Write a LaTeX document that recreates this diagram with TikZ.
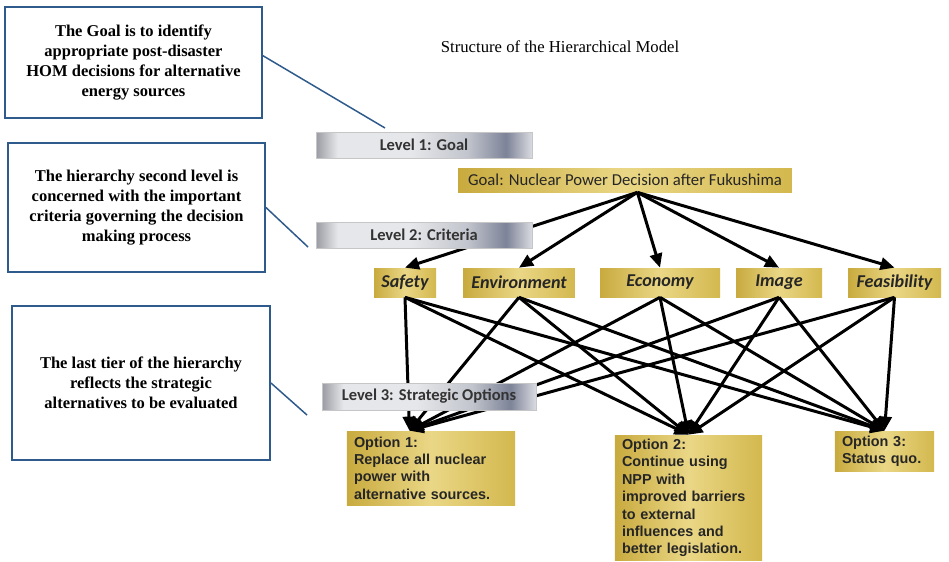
\documentclass[tikz,border=0pt]{standalone}
\usepackage{fontspec}
\setmainfont{Liberation Serif}
\newfontfamily\barfont{Carlito}
\newfontfamily\optfont{Liberation Sans}
\usetikzlibrary{arrows.meta}

\definecolor{noteblue}{HTML}{2F5B8C}
\definecolor{silverA}{HTML}{9A9CA3}
\definecolor{silverB}{HTML}{E6E7EA}
\definecolor{silverC}{HTML}{C2C5CD}
\definecolor{silverD}{HTML}{7D8398}
\definecolor{silverE}{HTML}{DADBE0}
\definecolor{goldA}{HTML}{C8AA3E}
\definecolor{goldB}{HTML}{EAD786}
\definecolor{goldC}{HTML}{D3B84E}

\pgfdeclarehorizontalshading{silverbar}{100bp}{color(0bp)=(silverA); color(25bp)=(silverA); color(30bp)=(silverB); color(47bp)=(silverB); color(60bp)=(silverC); color(69bp)=(silverD); color(75bp)=(silverE); color(100bp)=(silverE)}
\pgfdeclarehorizontalshading{goldbar}{100bp}{color(0bp)=(goldA); color(25bp)=(goldA); color(50bp)=(goldB); color(75bp)=(goldC); color(100bp)=(goldC)}

\begin{document}
\begin{tikzpicture}[
    x=0.02cm, y=-0.02cm,
    >={Triangle[length=8pt,width=7pt]},
    note/.style={draw=noteblue, line width=1.1pt, align=center, inner sep=0pt,
        font=\bfseries\fontsize{9.4}{11.3}\selectfont},
    levelbar/.style={draw=gray!45, shading=silverbar, minimum width=4.32cm, minimum height=0.52cm,
        inner sep=0pt, font=\barfont\bfseries\fontsize{9.4}{11}\selectfont, text=black!80},
    goldbox/.style={shading=goldbar, inner sep=0pt, text=black!85},
    crit/.style={goldbox, minimum height=0.58cm, font=\barfont\bfseries\itshape\fontsize{10.3}{12}\selectfont},
    option/.style={goldbox, align=left, inner xsep=4pt, font=\optfont\bfseries\fontsize{8.2}{9.9}\selectfont},
    link/.style={->, line width=1.7pt},
    callout/.style={draw=noteblue, line width=0.85pt}
]
\useasboundingbox (0,0) rectangle (949,561);

\node[note, minimum width=5.14cm, minimum height=2.22cm] (goalnote) at (133.5,62.5) {The Goal is to identify\\appropriate post-disaster\\HOM decisions for alternative\\energy sources};
\node[note, minimum width=5.14cm, minimum height=2.58cm] (critnote) at (136.5,207.5) {The hierarchy second level is\\concerned with the important\\criteria governing the decision\\making process};
\node[note, minimum width=5.16cm, minimum height=3.08cm] (optnote) at (141,383) {The last tier of the hierarchy\\reflects the strategic\\alternatives to be evaluated};

\node[font=\fontsize{9.5}{11}\selectfont] (title) at (560,47) {Structure of the Hierarchical Model};

\node[goldbox, minimum width=6.68cm, minimum height=0.48cm, font=\barfont\fontsize{9.5}{11}\selectfont] (goal) at (625,180) {Goal: Nuclear Power Decision after Fukushima};

\node[crit, minimum width=1.24cm] (safety) at (405,282.5) {Safety};
\node[crit, minimum width=2.24cm] (environment) at (519,282.5) {Environment};
\node[crit, minimum width=2.40cm] (economy) at (660,282.5) {Economy};
\node[crit, minimum width=1.72cm] (image) at (779,282.5) {Image};
\node[crit, minimum width=1.86cm] (feasibility) at (894.5,282.5) {Feasibility};

\node[option, text width=3.08cm, minimum height=1.48cm] (option1) at (431,468) {Option 1:\\Replace all nuclear\\power with\\alternative sources.};
\node[option, text width=2.66cm, minimum height=2.52cm] (option2) at (688.5,498) {Option 2:\\Continue using\\NPP with\\improved barriers\\to external\\influences and\\better legislation.};
\node[option, text width=1.70cm, minimum height=0.80cm] (option3) at (884.5,451) {Option 3:\\Status quo.};

\draw[link] (goal.-45) -- (safety.north);
\draw[link] (goal.-45) -- (environment.north);
\draw[link] (goal.-45) -- (economy.north);
\draw[link] (goal.-45) -- (image.north);
\draw[link] (goal.-45) -- (feasibility.north);

\draw[link] (safety.south) -- (option1.120);
\draw[link] (safety.south) -- (option2.north);
\draw[link] (safety.south) -- (option3.north);
\draw[link] (environment.south) -- (option1.120);
\draw[link] (environment.south) -- (option2.north);
\draw[link] (environment.south) -- (option3.north);
\draw[link] (economy.south) -- (option1.120);
\draw[link] (economy.south) -- (option2.north);
\draw[link] (economy.south) -- (option3.north);
\draw[link] (image.south) -- (option1.120);
\draw[link] (image.south) -- (option2.north);
\draw[link] (image.south) -- (option3.north);
\draw[link] (feasibility.south) -- (option1.120);
\draw[link] (feasibility.south) -- (option2.north);
\draw[link] (feasibility.south) -- (option3.north);

\node[levelbar] (level1) at (424,145) {Level 1: Goal};
\node[levelbar] (level2) at (424,235) {Level 2: Criteria};
\node[levelbar, minimum width=4.28cm, minimum height=0.54cm] (level3) at (429,396.5) {Level 3: Strategic Options};

\coordinate (goaltip) at (385,128);
\coordinate (crittip) at (308,247);
\coordinate (opttip) at (307,415);
\draw[callout] (goalnote.3) -- (goaltip);
\draw[callout] (critnote.east) -- (crittip);
\draw[callout] (optnote.east) -- (opttip);

\end{tikzpicture}
\end{document}
